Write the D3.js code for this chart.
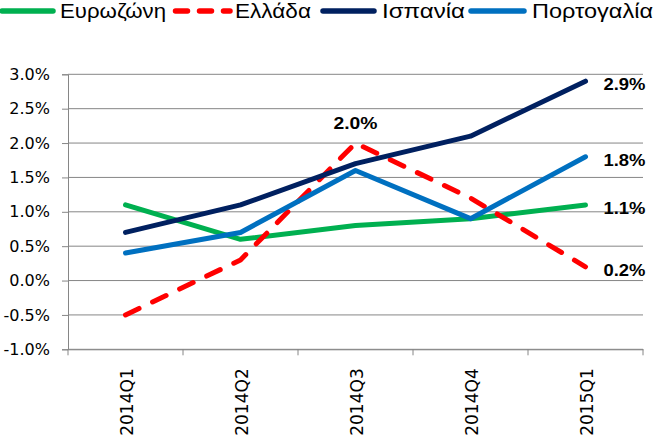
<!DOCTYPE html>
<html><head><meta charset="utf-8">
<script src="https://cdn.jsdelivr.net/npm/d3@7"></script>
<style>body{margin:0;background:#fff}svg{display:block}</style>
</head><body><svg id="c" width="658" height="435"></svg>
<script>
const categories = ["2014Q1","2014Q2","2014Q3","2014Q4","2015Q1"];
const seriesNames = ["Ευρωζώνη","Ελλάδα","Ισπανία","Πορτογαλία"];
const eurozone = [1.1,0.6,0.8,0.9,1.1];
const greece = [-0.5,0.3,2.0,1.2,0.2];
const spain = [0.7,1.1,1.7,2.1,2.9];
const portugal = [0.4,0.7,1.6,0.9,1.8];
const yTicks = [-1.0,-0.5,0.0,0.5,1.0,1.5,2.0,2.5,3.0];
const colors = ["#00B050","#FF0000","#002060","#0070C0"];

const series = [eurozone, greece, spain, portugal];
const isDashed = [false,true,false,false];
const svg = d3.select("#c");
const L=68, R=643, T=74.3, B=349.3;
const x = d3.scaleBand().domain(categories).range([L,R]);
const y = d3.scaleLinear().domain([-1,3]).range([B,T]);
const sans = "'Liberation Sans', Arial, sans-serif";
const axisFont = "'DejaVu Sans', Verdana, sans-serif";

// gridlines
svg.append("g").selectAll("line").data(yTicks).join("line")
  .attr("x1",L).attr("x2",R).attr("y1",d=>y(d)).attr("y2",d=>y(d))
  .attr("stroke","#868686").attr("stroke-width",1);

// y axis
const ya = svg.append("g").attr("transform",`translate(${L},0)`)
  .call(d3.axisLeft(y).tickValues(yTicks).tickSize(6).tickPadding(12).tickFormat(d=>d.toFixed(1)+"%"));
ya.select(".domain").attr("stroke","#868686");
ya.selectAll(".tick line").attr("stroke","#868686");
ya.selectAll("text").attr("font-family",axisFont).attr("font-size",16).attr("fill","#000");

// x axis
const xa = svg.append("g").attr("transform",`translate(0,${B})`)
  .call(d3.axisBottom(x).tickSize(0).tickPadding(0));
xa.select(".domain").attr("stroke","#868686");
xa.selectAll(".tick text").attr("font-family",axisFont).attr("font-size",17).attr("fill","#000")
  .attr("transform","rotate(-90)").attr("text-anchor","end").attr("dy","0.42em").attr("x",-19).attr("y",0);
// category boundary ticks
svg.append("g").selectAll("line").data(d3.range(categories.length+1)).join("line")
  .attr("x1",i=>L+i*x.step()).attr("x2",i=>L+i*x.step())
  .attr("y1",B).attr("y2",B+6).attr("stroke","#868686");

// lines
const line = d3.line().x((d,i)=>x(categories[i])+x.bandwidth()/2).y(d=>y(d));
series.forEach((s,k)=>{
  svg.append("path").datum(s).attr("d",line).attr("fill","none")
    .attr("stroke",colors[k]).attr("stroke-width",5)
    .attr("stroke-linecap","round").attr("stroke-linejoin","round")
    .attr("stroke-dasharray",isDashed[k] ? "15,15" : null);
});

// value labels
function valLabel(v, px, py, anchor, width){
  svg.append("text").attr("x",px).attr("y",py).attr("text-anchor",anchor)
    .attr("font-family",sans).attr("font-size",17).attr("font-weight","bold")
    .attr("textLength",width).attr("lengthAdjust","spacingAndGlyphs")
    .text(v.toFixed(1)+"%");
}
const lastX = x(categories[4])+x.bandwidth()/2;
[eurozone, greece, spain, portugal].forEach(s=>{
  valLabel(s[4], lastX+18, y(s[4])+9, "start", 42);
});
valLabel(greece[2], x(categories[2])+x.bandwidth()/2, y(greece[2])-14, "middle", 44);

// legend
const legLine=[[2,53],[175.5,230],[323,374],[471,524]];
const legText=[[60,106],[235,76],[382,83],[532,121]];
const lg = svg.append("g");
seriesNames.forEach((n,k)=>{
  lg.append("line").attr("x1",legLine[k][0]).attr("x2",legLine[k][1]).attr("y1",11).attr("y2",11)
    .attr("stroke",colors[k]).attr("stroke-width",5.5).attr("stroke-linecap","round")
    .attr("stroke-dasharray",isDashed[k] ? "12,12" : null);
  lg.append("text").attr("x",legText[k][0]).attr("y",18)
    .attr("font-family",sans).attr("font-size",20)
    .attr("textLength",legText[k][1]).attr("lengthAdjust","spacingAndGlyphs").text(n);
});
</script></body></html>
